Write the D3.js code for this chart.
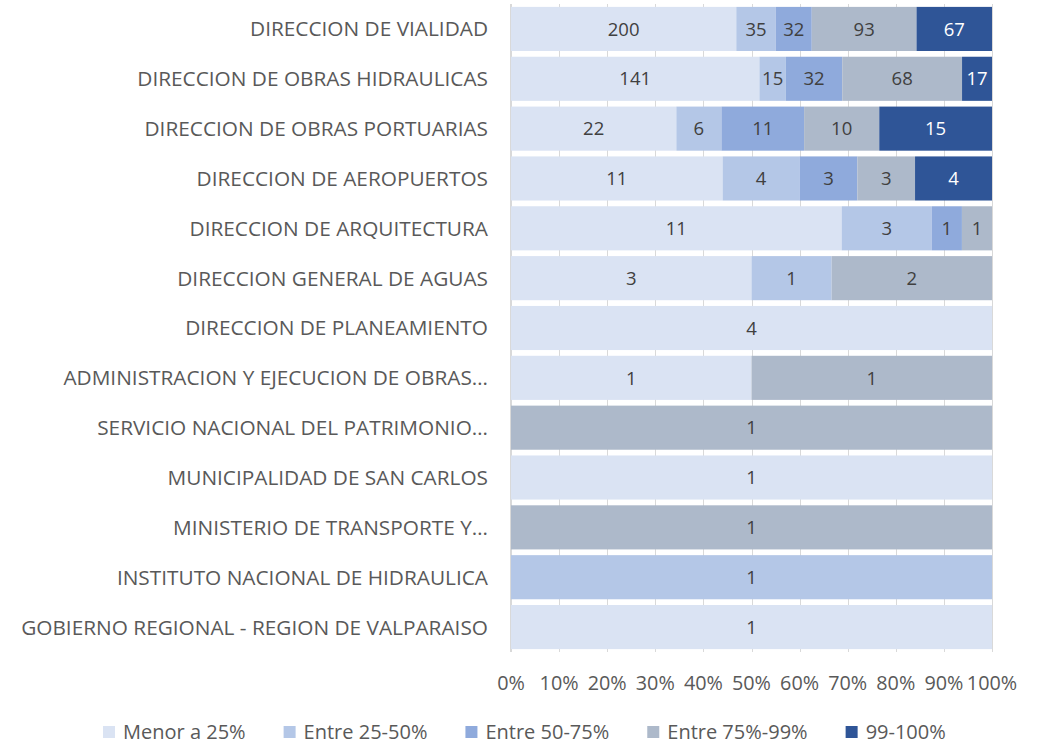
<!DOCTYPE html>
<html>
<head>
<meta charset="utf-8">
<script src="https://cdn.jsdelivr.net/npm/d3@7"></script>
<style>
body { margin: 0; background: #fff; }
svg { display: block; }
text { font-family: "Open Sans", "Liberation Sans", sans-serif; }
</style>
</head>
<body>
<svg id="chart" width="1040" height="745"></svg>
<script>
const categories = [
  "DIRECCION DE VIALIDAD",
  "DIRECCION DE OBRAS HIDRAULICAS",
  "DIRECCION DE OBRAS PORTUARIAS",
  "DIRECCION DE AEROPUERTOS",
  "DIRECCION DE ARQUITECTURA",
  "DIRECCION GENERAL DE AGUAS",
  "DIRECCION DE PLANEAMIENTO",
  "ADMINISTRACION Y EJECUCION DE OBRAS…",
  "SERVICIO NACIONAL DEL PATRIMONIO…",
  "MUNICIPALIDAD DE SAN CARLOS",
  "MINISTERIO DE TRANSPORTE Y…",
  "INSTITUTO NACIONAL DE HIDRAULICA",
  "GOBIERNO REGIONAL - REGION DE VALPARAISO"
];
const seriesNames = ["Menor a 25%", "Entre 25-50%", "Entre 50-75%", "Entre 75%-99%", "99-100%"];
const menor25   = [200, 141, 22, 11, 11, 3, 4, 1, 0, 1, 0, 0, 1];
const entre2550 = [35, 15, 6, 4, 3, 1, 0, 0, 0, 0, 0, 1, 0];
const entre5075 = [32, 32, 11, 3, 1, 0, 0, 0, 0, 0, 0, 0, 0];
const entre7599 = [93, 68, 10, 3, 1, 2, 0, 1, 1, 0, 1, 0, 0];
const cien      = [67, 17, 15, 4, 0, 0, 0, 0, 0, 0, 0, 0, 0];
const tickLabels = ["0%","10%","20%","30%","40%","50%","60%","70%","80%","90%","100%"];
const colors = ["#dae3f3", "#b4c7e7", "#8faadc", "#adb9ca", "#2f5597"];
const labelColors = ["#404040", "#404040", "#404040", "#404040", "#ffffff"];

const seriesValues = [menor25, entre2550, entre5075, entre7599, cien];
const rows = categories.map((c, i) => {
  const r = { cat: c };
  seriesNames.forEach((s, j) => r[s] = seriesValues[j][i]);
  return r;
});

const svg = d3.select("#chart");
const pLeft = 511, pRight = 992, pTop = 4, pBottom = 652;

const x = d3.scaleLinear().domain([0, 1]).range([pLeft, pRight]);
const y = d3.scaleBand().domain(categories).range([pTop, pBottom]).paddingInner(0.115).paddingOuter(0.058);

// gridlines
svg.append("g").selectAll("line").data(d3.range(0, 1.0001, 0.1)).join("line")
  .attr("x1", d => Math.round(x(d)) + 0.5).attr("x2", d => Math.round(x(d)) + 0.5)
  .attr("y1", pTop).attr("y2", pBottom)
  .attr("stroke", "#d9d9d9").attr("stroke-width", 1);

const stack = d3.stack().keys(seriesNames).offset(d3.stackOffsetExpand);
const stacked = stack(rows);

const g = svg.append("g");
stacked.forEach((s, si) => {
  const grp = g.append("g");
  grp.selectAll("rect").data(s.filter(d => d[1] - d[0] > 0)).join("rect")
    .attr("x", d => x(d[0]))
    .attr("width", d => x(d[1]) - x(d[0]))
    .attr("y", d => y(d.data.cat))
    .attr("height", y.bandwidth())
    .attr("fill", colors[si]);
  grp.selectAll("text").data(s.filter(d => d[1] - d[0] > 0)).join("text")
    .attr("x", d => (x(d[0]) + x(d[1])) / 2)
    .attr("y", d => y(d.data.cat) + y.bandwidth() / 2)
    .attr("dy", "0.36em")
    .attr("text-anchor", "middle")
    .attr("font-size", 18.5)
    .attr("fill", labelColors[si])
    .text(d => d.data[s.key]);
});

// left axis line
svg.append("line").attr("x1", pLeft - 0.5).attr("x2", pLeft - 0.5).attr("y1", pTop).attr("y2", pBottom)
  .attr("stroke", "#d9d9d9");

// category labels
svg.append("g").selectAll("text").data(categories).join("text")
  .attr("x", pLeft - 23)
  .attr("y", d => y(d) + y.bandwidth() / 2)
  .attr("dy", "0.36em")
  .attr("text-anchor", "end")
  .attr("font-size", 20.8)
  .attr("fill", "#595959")
  .text(d => d);

// x tick labels
svg.append("g").selectAll("text").data(tickLabels).join("text")
  .attr("x", (d, i) => x(i / 10))
  .attr("y", 683)
  .attr("dy", "0.36em")
  .attr("text-anchor", "middle")
  .attr("font-size", 19.8)
  .attr("fill", "#595959")
  .text(d => d);

// legend
const leg = svg.append("g");
let cx = 103;
seriesNames.forEach((s, i) => {
  const it = leg.append("g");
  it.append("rect").attr("x", 0).attr("y", -6).attr("width", 12).attr("height", 12).attr("fill", colors[i]);
  const t = it.append("text").attr("x", 20).attr("y", 0).attr("dy", "0.36em")
    .attr("font-size", 20).attr("fill", "#595959").text(s);
  const w = 20 + t.node().getComputedTextLength();
  it.attr("transform", `translate(${cx},732)`);
  cx += w + 38;
});
</script>
</body>
</html>
